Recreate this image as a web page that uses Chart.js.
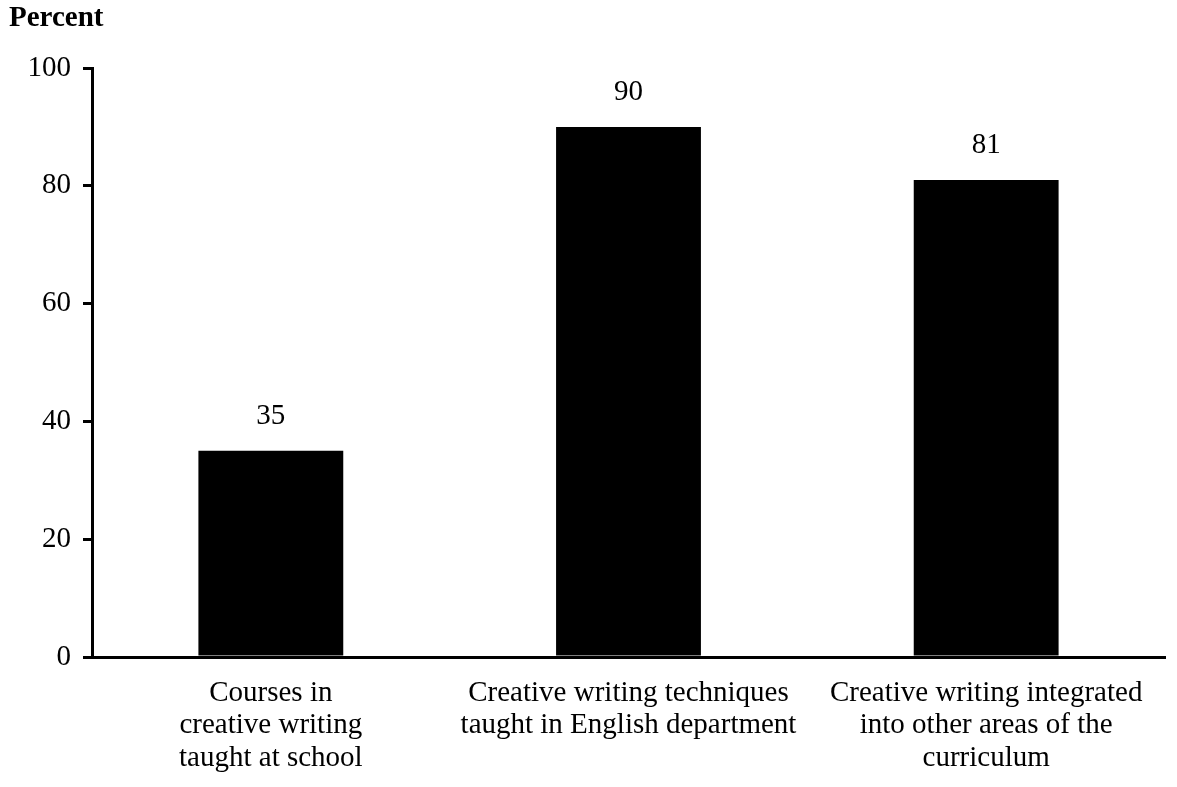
<!DOCTYPE html>
<html>
<head>
<meta charset="utf-8">
<script src="https://cdn.jsdelivr.net/npm/chart.js@4"></script>
<style>
  html, body { margin: 0; padding: 0; background: #fff; }
  #wrap { width: 1177px; height: 787px; }
</style>
</head>
<body>
<div id="wrap"><canvas id="mychart"></canvas></div>
<script>
// categories and values
const categories = [
  ['Courses in', 'creative writing', 'taught at school'],
  ['Creative writing techniques', 'taught in English department'],
  ['Creative writing integrated', 'into other areas of the', 'curriculum']
];
const percents = [35, 90, 81];
const yTicks = [0, 20, 40, 60, 80, 100];
const yTitle = 'Percent';

const serif = 'Liberation Serif, Times New Roman, serif';

// numbers over the bars + the "Percent" heading
const labelsPlugin = {
  id: 'labels',
  afterDatasetsDraw(chart) {
    const ctx = chart.ctx;
    ctx.save();
    ctx.fillStyle = '#000';
    ctx.font = '29px ' + serif;
    ctx.textAlign = 'center';
    ctx.textBaseline = 'bottom';
    chart.getDatasetMeta(0).data.forEach((bar, i) => {
      ctx.fillText(percents[i], bar.x, bar.y - 20);
    });
    ctx.font = 'bold 29px ' + serif;
    ctx.textAlign = 'left';
    ctx.textBaseline = 'middle';
    ctx.fillText(yTitle, 9, 19);
    ctx.restore();
  }
};

new Chart(document.getElementById('mychart').getContext('2d'), {
  type: 'bar',
  data: {
    labels: categories,
    datasets: [{
      data: percents,
      backgroundColor: '#000',
      borderWidth: 0,
      barPercentage: 0.405,
      categoryPercentage: 1
    }]
  },
  options: {
    responsive: true,
    maintainAspectRatio: false,
    animation: false,
    layout: { padding: { top: 68, right: 12, left: 0, bottom: 0 } },
    plugins: { legend: { display: false }, tooltip: { enabled: false }, title: { display: false } },
    scales: {
      x: {
        grid: { display: false, drawTicks: false },
        border: { color: '#000', width: 3 },
        ticks: {
          color: '#000',
          font: { family: serif, size: 29, lineHeight: 1.12 },
          padding: 20,
          maxRotation: 0,
          autoSkip: false
        },
        afterFit(scale) { scale.height = 130; }
      },
      y: {
        min: 0,
        max: 100,
        afterBuildTicks(scale) { scale.ticks = yTicks.map(v => ({ value: v })); },
        grid: { drawOnChartArea: false, drawTicks: true, tickLength: 9, color: '#000', lineWidth: 3 },
        border: { color: '#000', width: 3 },
        ticks: {
          color: '#000',
          font: { family: serif, size: 29 },
          padding: 12
        },
        afterFit(scale) { scale.width = 92; }
      }
    }
  },
  plugins: [labelsPlugin]
});
</script>
</body>
</html>
